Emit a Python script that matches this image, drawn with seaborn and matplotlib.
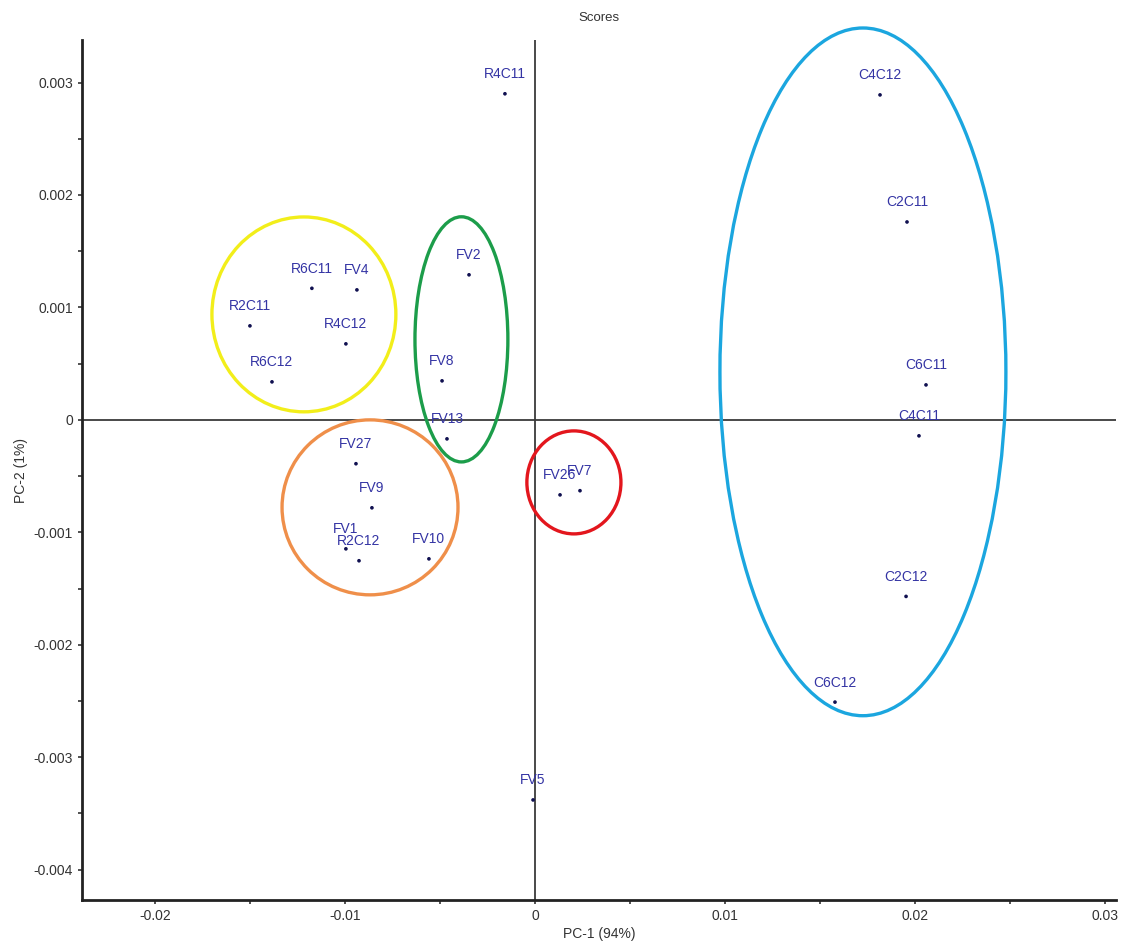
import matplotlib
matplotlib.use("Agg")
import matplotlib.pyplot as plt
from matplotlib.patches import Ellipse
from matplotlib.ticker import MultipleLocator, FuncFormatter
import pandas as pd
import seaborn as sns

# PCA scores
samples = ["R4C11", "C4C12", "C2C11", "R6C11", "FV4", "FV2", "R2C11", "R4C12",
           "R6C12", "FV8", "C6C11", "FV13", "C4C11", "FV27", "FV26", "FV7",
           "FV9", "FV1", "R2C12", "FV10", "C2C12", "C6C12", "FV5"]
pc1 = [-0.00158, 0.01816, 0.01958, -0.01174, -0.00937, -0.00347, -0.0150, -0.00995,
       -0.01384, -0.00489, 0.02058, -0.00463, 0.02021, -0.00942, 0.00132, 0.00237,
       -0.00858, -0.00995, -0.00926, -0.00558, 0.01953, 0.01579, -0.0001]
pc2 = [0.00290, 0.00289, 0.00176, 0.00117, 0.001156, 0.00129, 0.000836, 0.000676,
       0.000338, 0.000347, 0.000311, -0.000169, -0.000142, -0.00039, -0.000667, -0.00063,
       -0.000782, -0.001147, -0.001253, -0.001236, -0.00157, -0.00251, -0.00338]

# group outlines: centre x, centre y, width, height
group_cx = [-0.01216, -0.00387, -0.00868, 0.00205, 0.01726]
group_cy = [0.000938, 0.000716, -0.000778, -0.000556, 0.000427]
group_w = [0.00968, 0.00489, 0.00926, 0.00495, 0.01505]
group_h = [0.001733, 0.00218, 0.001556, 0.000916, 0.006116]
group_colors = ["#f2ee1a", "#1c9d4a", "#ef8f4a", "#e3161d", "#1ba6df"]


def fmt(v, pos):
    if abs(v) < 1e-12:
        return "0"
    return f"{v:g}"


def main():
    sns.set_style("ticks")
    plt.rcParams["font.family"] = ["Liberation Sans", "DejaVu Sans"]

    df = pd.DataFrame({"pc1": pc1, "pc2": pc2, "sample": samples})

    fig = plt.figure(figsize=(11.29, 9.44), dpi=100)
    ax = fig.add_axes([0.0726, 0.0466, 0.9159, 0.911])

    ax.axhline(0, color="#3a3a3a", lw=1.3, zorder=1)
    ax.axvline(0, color="#3a3a3a", lw=1.3, zorder=1)

    sns.scatterplot(data=df, x="pc1", y="pc2", ax=ax, color="#101050",
                    s=7, edgecolor="none", zorder=3, legend=False)

    for _, row in df.iterrows():
        ax.annotate(row["sample"], (row["pc1"], row["pc2"]),
                    xytext=(0, 9), textcoords="offset points",
                    ha="center", va="bottom", fontsize=10, color="#3434a4",
                    zorder=4)

    for cx, cy, w, h, c in zip(group_cx, group_cy, group_w, group_h, group_colors):
        ax.add_patch(Ellipse((cx, cy), w, h, fill=False, edgecolor=c,
                             lw=2.4, clip_on=False, zorder=2))

    ax.set_xlim(-0.02384, 0.03058)
    ax.set_ylim(-0.00427, 0.003378)
    ax.xaxis.set_major_locator(MultipleLocator(0.01))
    ax.xaxis.set_minor_locator(MultipleLocator(0.005))
    ax.yaxis.set_major_locator(MultipleLocator(0.001))
    ax.yaxis.set_minor_locator(MultipleLocator(0.0005))
    ax.xaxis.set_major_formatter(FuncFormatter(fmt))
    ax.yaxis.set_major_formatter(FuncFormatter(fmt))
    ax.tick_params(which="both", direction="out", length=3, width=1.2,
                   labelsize=10, labelcolor="#333333", color="#333333")

    sns.despine(ax=ax)
    for side in ["left", "bottom"]:
        ax.spines[side].set_linewidth(2)
        ax.spines[side].set_color("#222222")

    ax.set_xlabel("PC-1 (94%)", fontsize=10, color="#333333", labelpad=3)
    ax.set_ylabel("PC-2 (1%)", fontsize=10, color="#333333", labelpad=4)
    ax.set_title("Scores", fontsize=9.5, color="#333333", pad=14)

    fig.savefig("out.png", dpi=100)
    plt.close(fig)


if __name__ == "__main__":
    main()
